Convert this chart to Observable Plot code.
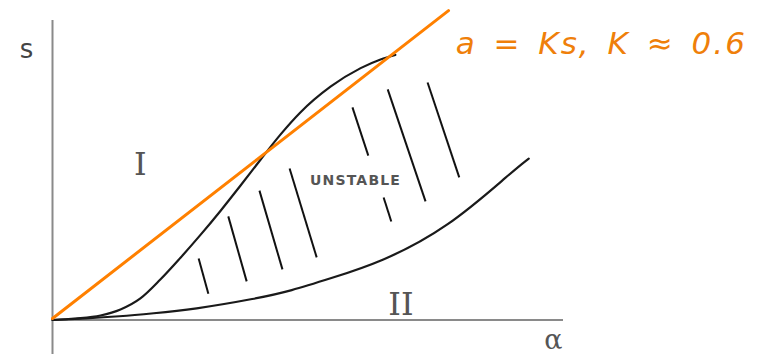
<!DOCTYPE html>
<html>
<head>
<meta charset="utf-8">
<script src="https://cdn.jsdelivr.net/npm/d3@7"></script>
<script src="https://cdn.jsdelivr.net/npm/@observablehq/plot@0.6"></script>
<style>
  html, body { margin: 0; padding: 0; background: #fff; }
  #chart svg { display: block; }
</style>
</head>
<body>
<div id="chart"></div>
<script>
// Stability diagram in the (α, s) plane, arbitrary units 0..10 on both axes.

// Upper S-shaped boundary
const upperAlpha = [0, 0.45, 0.94, 1.33, 1.72, 2.11, 2.50, 2.90, 3.29, 3.68, 4.07, 4.46, 4.85, 5.44, 6.03, 6.42, 6.71];
const upperS     = [0, 0.05, 0.15, 0.35, 0.72, 1.35, 2.07, 2.85, 3.65, 4.49, 5.35, 6.19, 6.93, 7.79, 8.41, 8.70, 8.85];

// Lower boundary
const lowerAlpha = [0, 0.65, 1.31, 1.96, 2.74, 4.01, 4.66, 5.44, 6.42, 7.73, 9.02, 9.32];
const lowerS     = [0, 0.05, 0.12, 0.22, 0.35, 0.72, 0.97, 1.39, 1.92, 3.06, 4.99, 5.39];

// Straight line a = Ks
const lineAlpha = [0, 7.75];
const lineS     = [0.05, 10.33];

// Hatch strokes across the unstable region
const hatchAlpha1 = [2.86, 3.44, 4.05, 4.64, 5.87, 6.48, 6.56, 7.34];
const hatchS1     = [2.05, 3.46, 4.32, 5.06, 7.10, 4.09, 7.70, 7.93];
const hatchAlpha2 = [3.05, 3.80, 4.50, 5.17, 6.18, 6.63, 7.30, 7.96];
const hatchS2     = [0.88, 1.29, 1.69, 2.09, 5.49, 3.29, 3.96, 4.76];

// Axis extents
const axisAlphaMax = 10;
const axisSMin = -1.2;
const axisSMax = 10;

// Region and axis labels
const regionLabels = ["I", "II"];
const regionAlpha  = [1.72, 6.82];
const regionS      = [5.20, 0.52];
const unstableLabel = "UNSTABLE";
const unstablePos = [5.93, 4.65];
const axisLabelX = "α";
const axisLabelXPos = [9.80, -0.68];
const axisLabelY = "s";
const axisLabelYPos = [-0.51, 9.04];
const formula = "a = Ks, K ≈ 0.6";
const formulaPos = [7.89, 9.22];

const toPoints = (xs, ys) => xs.map((x, i) => ({x, y: ys[i]}));
const upper = toPoints(upperAlpha, upperS);
const lower = toPoints(lowerAlpha, lowerS);
const kline = toPoints(lineAlpha, lineS);
const hatches = hatchAlpha1.map((x1, i) => ({x1, y1: hatchS1[i], x2: hatchAlpha2[i], y2: hatchS2[i]}));
const regions = regionLabels.map((t, i) => ({t, x: regionAlpha[i], y: regionS[i]}));

const orange = "#ff8000";

const chart = Plot.plot({
  width: 765,
  height: 354,
  marginLeft: 52,
  marginRight: 202,
  marginTop: 20,
  marginBottom: 34.5,
  x: {domain: [0, 10], axis: null},
  y: {domain: [0, 10], axis: null},
  style: {background: "#fff", overflow: "visible"},
  marks: [
    // axes
    Plot.ruleY([0], {x1: 0, x2: axisAlphaMax, stroke: "#8a8a8a", strokeWidth: 2}),
    Plot.ruleX([0], {y1: axisSMin, y2: axisSMax, stroke: "#8a8a8a", strokeWidth: 2}),
    // boundaries
    Plot.line(lower, {x: "x", y: "y", curve: "basis", stroke: "#1a1a1a", strokeWidth: 2.2}),
    Plot.line(upper, {x: "x", y: "y", curve: "monotone-x", stroke: "#1a1a1a", strokeWidth: 2.2}),
    // hatching
    Plot.link(hatches, {x1: "x1", y1: "y1", x2: "x2", y2: "y2", stroke: "#111", strokeWidth: 2}),
    // a = Ks
    Plot.line(kline, {x: "x", y: "y", stroke: orange, strokeWidth: 3}),
    // labels
    Plot.text(regions, {x: "x", y: "y", text: "t", fontFamily: "DejaVu Serif", fontSize: 32, fill: "#555"}),
    Plot.text([unstableLabel], {x: unstablePos[0], y: unstablePos[1], text: d => d, fontFamily: "DejaVu Sans", fontWeight: "bold", fontSize: 14, fill: "#555"}),
    Plot.text([axisLabelX], {x: axisLabelXPos[0], y: axisLabelXPos[1], text: d => d, fontFamily: "DejaVu Serif", fontSize: 27, fill: "#555"}),
    Plot.text([axisLabelY], {x: axisLabelYPos[0], y: axisLabelYPos[1], text: d => d, fontFamily: "DejaVu Sans", fontSize: 26, fill: "#444"}),
    Plot.text([formula], {x: formulaPos[0], y: formulaPos[1], text: d => d, textAnchor: "start", fontFamily: "DejaVu Sans", fontStyle: "italic", fontSize: 31, fill: "#ef7f0a"})
  ]
});

// Widen the spacing of the formula and the small label
d3.select(chart).selectAll("text").each(function() {
  const t = this.textContent;
  if (t === formula) d3.select(this).attr("letter-spacing", "2px").attr("word-spacing", "5px");
  if (t === unstableLabel) d3.select(this).attr("letter-spacing", "1.2px");
});

document.getElementById("chart").appendChild(chart);
</script>
</body>
</html>
